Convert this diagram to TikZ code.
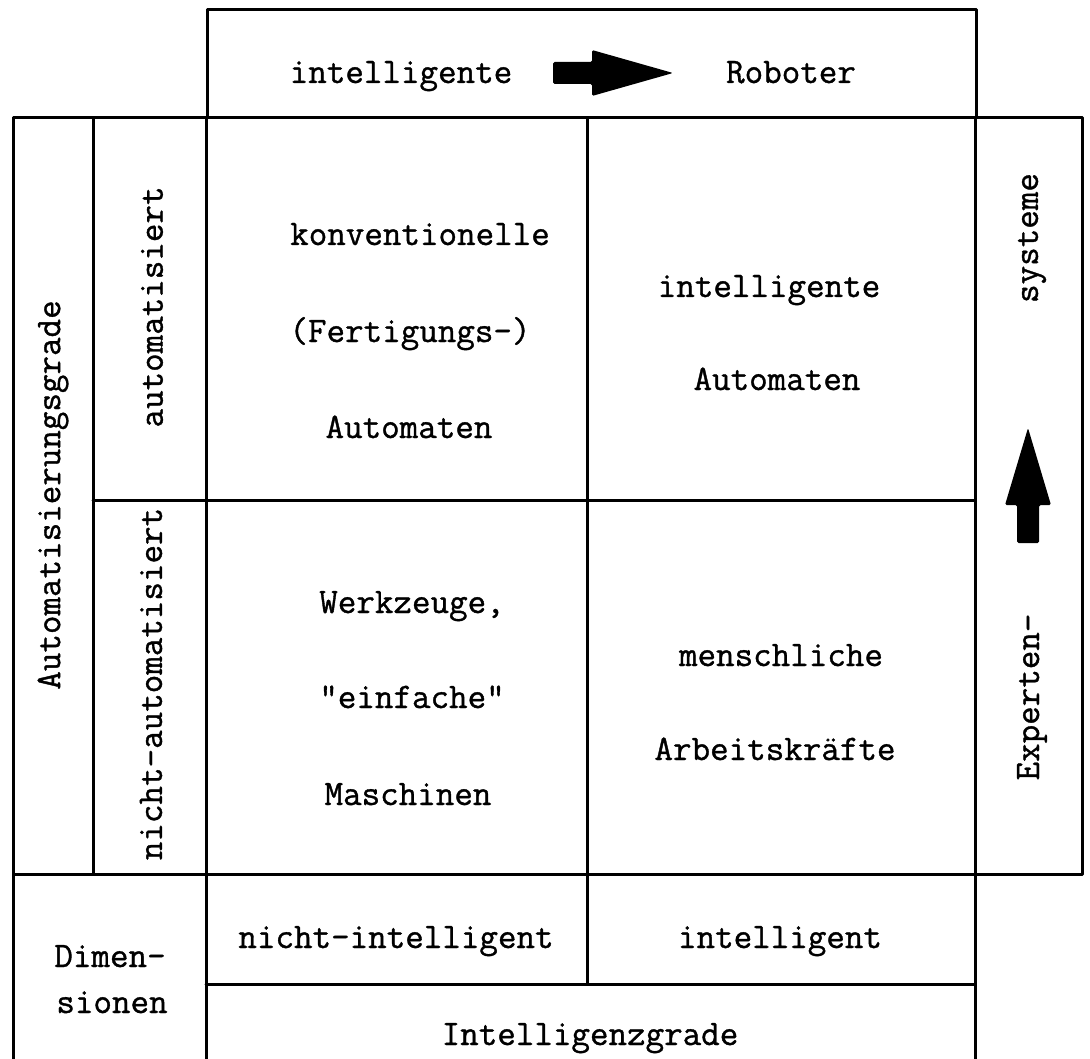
\documentclass[tikz,border=0pt]{standalone}
\usepackage{fontspec}
\newfontfamily\typew{Latin Modern Mono}[FakeBold=1]
\tikzset{
  frame/.style={line width=3pt, line join=round, line cap=round},
  lbl/.style={font=\typew\fontsize{36}{40}\selectfont, inner sep=0pt, anchor=base},
  vlbl/.style={font=\typew\fontsize{36}{40}\selectfont, inner sep=0pt, anchor=center, rotate=90},
  bigarrow/.style={fill=black, rounded corners=1.5pt}
}
\begin{document}
\begin{tikzpicture}[x=1pt, y=-1pt]
\useasboundingbox (0,0) rectangle (1090,1059);
\clip (0,0) rectangle (1090,1059);

% top header box
\draw[frame] (207,10) rectangle (976,118);
% main block with the right-hand column
\draw[frame] (13,118) rectangle (1082,874);
\draw[frame] (93,118) -- (93,874);
\draw[frame] (206,118) -- (206,1100);
\draw[frame] (587,118) -- (587,984);
\draw[frame] (975,118) -- (975,1100);
\draw[frame] (93,500) -- (975,500);
% bottom rows (continue past the lower edge)
\draw[frame] (13,874) -- (13,1100);
\draw[frame] (206,984) -- (975,984);

% header arrow
\fill[bigarrow] (553,62) -- (592,62) -- (592,50) -- (673,73) -- (592,96) -- (592,84) -- (553,84) -- cycle;
% upward arrow in the right column
\fill[bigarrow] (1017,543) -- (1017,505) -- (1005,505) -- (1028,428) -- (1051,505) -- (1039,505) -- (1039,543) -- cycle;

% header texts
\node[lbl] (hint) at (401,83) {intelligente};
\node[lbl] (hrob) at (791,83) {Roboter};

% left labels
\node[vlbl] (agrad) at (53,495) {Automatisierungsgrade};
\node[vlbl] (auto) at (152,307) {automatisiert};
\node[vlbl] (nauto) at (151,684) {nicht-automatisiert};

% right labels
\node[vlbl] (sys) at (1032,238) {systeme};
\node[vlbl] (exp) at (1032,697) {Experten-};

% cells
\node[lbl] (k1) at (420,245) {konventionelle};
\node[lbl] (k2) at (410,342) {(Fertigungs-)};
\node[lbl] (k3) at (409,438) {Automaten};

\node[lbl] (i1) at (769,297) {intelligente};
\node[lbl] (i2) at (777,390) {Automaten};

\node[lbl] (w1) at (412,613) {Werkzeuge,};
\node[lbl] (w2) at (412,708) {"einfache"};
\node[lbl] (w3) at (408,805) {Maschinen};

\node[lbl] (m1) at (781,666) {menschliche};
\node[lbl] (m2) at (775,760) {Arbeitskräfte};

% bottom rows
\node[lbl] (ni) at (396,948) {nicht-intelligent};
\node[lbl] (in) at (780,948) {intelligent};
\node[lbl] (ig) at (590,1045) {Intelligenzgrade};
\node[lbl] (dim1) at (110,967) {Dimen-};
\node[lbl] (dim2) at (112,1013) {sionen};
\end{tikzpicture}
\end{document}
